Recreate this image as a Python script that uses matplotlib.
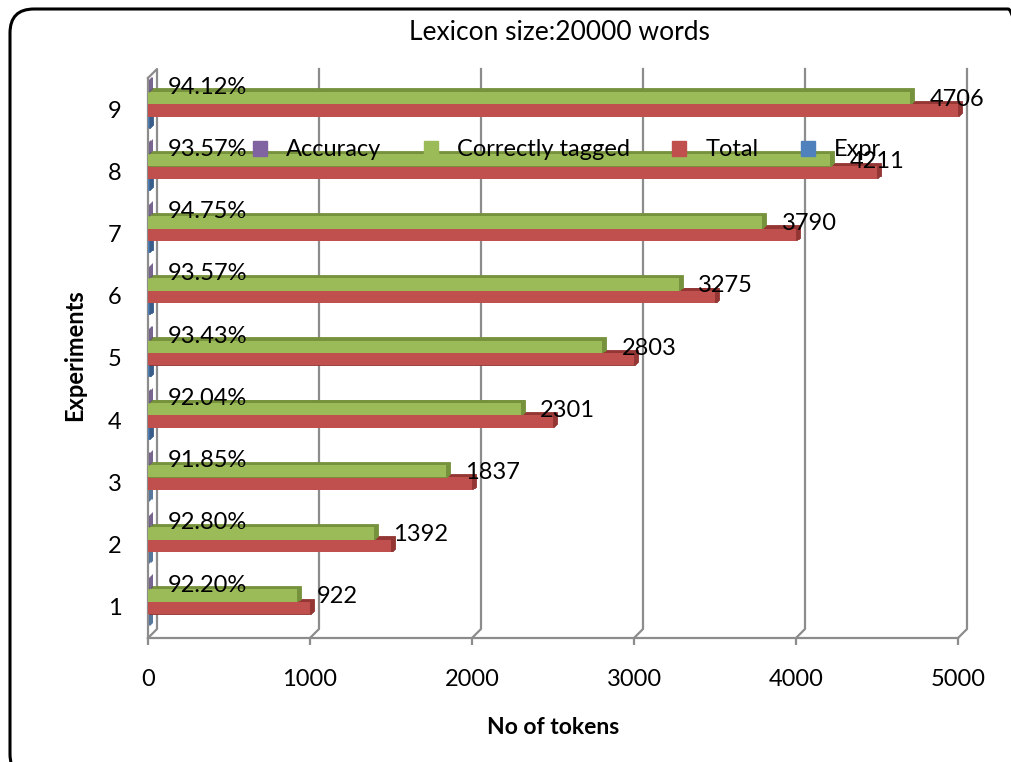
import numpy as np
import matplotlib.pyplot as plt
from matplotlib.patches import Patch, FancyBboxPatch
from matplotlib.transforms import ScaledTranslation, IdentityTransform

plt.rcParams['font.family'] = ['Lato', 'DejaVu Sans']

# data
experiments = [1, 2, 3, 4, 5, 6, 7, 8, 9]
total = [1000, 1500, 2000, 2500, 3000, 3500, 4000, 4500, 5000]
correct = [922, 1392, 1837, 2301, 2803, 3275, 3790, 4211, 4706]
accuracy = [92.20, 92.80, 91.85, 92.04, 93.43, 93.57, 94.75, 93.57, 94.12]
expr = experiments
x_ticks = [0, 1000, 2000, 3000, 4000, 5000]

green, green_d = "#9BBB59", "#76923C"
red, red_d = "#C0504D", "#943634"
blue, blue_d = "#4F81BD", "#385D8A"
purple, purple_d = "#8064A2", "#5F497A"
grid_c = "#8C8C8C"

W, H = 1012, 762
fig = plt.figure(figsize=(W / 100, H / 100), dpi=100)

# outer rounded frame (pixel coords, partly cut off at right/bottom)
fig.patches.append(FancyBboxPatch((10, H - 778), 1022, 769,
                                  boxstyle="round,pad=0,rounding_size=24",
                                  fill=False, ec="black", lw=2.2,
                                  transform=IdentityTransform(), figure=fig))

ax = fig.add_axes([148 / W, (H - 638) / H, 810 / W, 560 / H])
ax.set_xlim(0, 5000)
ax.set_ylim(0.5, 9.5)
for s in ax.spines.values():
    s.set_visible(False)

# pixel -> data factors for the 3d wall
px_x = 5000 / 810
px_y = 9 / 560
dx, dy = 9 * px_x, 9 * px_y

# back wall gridlines + floor diagonals
for x in x_ticks[1:]:
    ax.plot([x + dx, x + dx, x], [9.5 + dy, 0.5 + dy, 0.5], color=grid_c, lw=1.6,
            clip_on=False, zorder=1)
# left wall
ax.plot([0, 0], [0.5, 9.5], color=grid_c, lw=1.6, clip_on=False, zorder=1)
ax.plot([0, dx, dx, 0], [9.5, 9.5 + dy, 0.5 + dy, 0.5], color=grid_c, lw=1.6,
        clip_on=False, zorder=1)
# floor front line
ax.plot([0, 5000], [0.5, 0.5], color=grid_c, lw=1.6, clip_on=False, zorder=1)

# bars with a little extruded depth
y = np.array(experiments, dtype=float)
h = 0.2
series = [
    (expr, -0.21, blue, blue_d, "Expr"),
    (total, -0.02, red, red_d, "Total"),
    (correct, 0.18, green, green_d, "Correctly tagged"),
    ([a / 100 for a in accuracy], 0.37, purple, purple_d, "Accuracy"),
]
z = 2
for vals, off, col, col_d, name in series:
    for k in (1, 2, 3, 4):
        tr = ax.transData + ScaledTranslation(k / 100, 0.8 * k / 100, fig.dpi_scale_trans)
        ax.barh(y + off, vals, height=h, color=col_d, ec=col_d, lw=0.6,
                transform=tr, zorder=z, clip_on=False)
    ax.barh(y + off, vals, height=h, color=col, zorder=z + 0.5, clip_on=False)
    z += 1

# data labels
for yi, a in zip(y, accuracy):
    ax.annotate(f"{a:.2f}%", (a / 100, yi + 0.35), xytext=(14, 0), textcoords="offset points",
                va="center", ha="left", fontsize=17, zorder=10)
for yi, c in zip(y, correct):
    ax.annotate(f"{c}", (c, yi + 0.16), xytext=(14, 0), textcoords="offset points",
                va="center", ha="left", fontsize=17, zorder=10)

ax.set_xticks(x_ticks)
ax.set_xticklabels([str(t) for t in x_ticks], fontsize=17)
ax.set_yticks(experiments)
ax.set_yticklabels([str(e) for e in experiments], fontsize=17)
ax.tick_params(axis="x", length=5, width=1.6, color=grid_c, pad=17)
ax.tick_params(axis="y", length=0, pad=19)

ax.set_xlabel("No of tokens", fontsize=16.5, fontweight="bold", labelpad=20)
fig.text(75 / W, 1 - 355 / H, "Experiments", rotation=90, fontsize=17, fontweight="bold",
         ha="center", va="center")
fig.text(559 / W, 1 - 32 / H, "Lexicon size:20000 words", fontsize=19, ha="center", va="center")

handles = [Patch(color=purple), Patch(color=green), Patch(color=red), Patch(color=blue)]
labels = ["Accuracy", "Correctly tagged", "Total", "Expr"]
fig.legend(handles, labels, loc="center", bbox_to_anchor=(567 / W, 1 - 150 / H), ncol=4,
           frameon=False, fontsize=17, handlelength=0.6, handleheight=0.6,
           handletextpad=0.8, columnspacing=1.8)

fig.savefig("out.png", dpi=100)
